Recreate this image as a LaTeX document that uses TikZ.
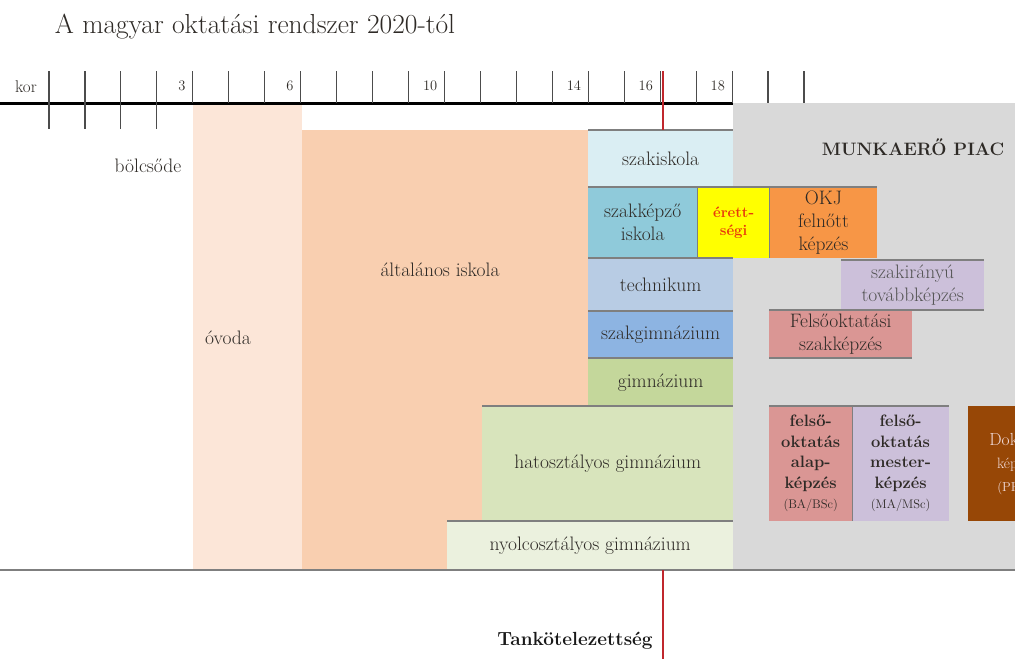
\documentclass[tikz,border=0pt]{standalone}
\usepackage{tikz}
\usepackage{xcolor}
\usetikzlibrary{positioning}

\definecolor{szoveg}{HTML}{2E2A26}
\definecolor{halvany}{HTML}{555555}
\definecolor{ovodaszin}{HTML}{FCE6D8}
\definecolor{altalanosszin}{HTML}{F9CFB0}
\definecolor{piacszin}{HTML}{D9D9D9}
\definecolor{szakiskszin}{HTML}{DAEEF3}
\definecolor{szakkepzoszin}{HTML}{8FCADA}
\definecolor{erettszin}{HTML}{FFFF00}
\definecolor{erettbetu}{HTML}{E8380D}
\definecolor{okjszin}{HTML}{F79646}
\definecolor{technszin}{HTML}{B8CCE4}
\definecolor{szakgimnszin}{HTML}{8DB4E2}
\definecolor{gimnszin}{HTML}{C4D79B}
\definecolor{hatosszin}{HTML}{D8E4BC}
\definecolor{nyolcszin}{HTML}{EBF1DE}
\definecolor{lilaszin}{HTML}{CCC0DA}
\definecolor{rozsaszin}{HTML}{DA9694}
\definecolor{doktorszin}{HTML}{974706}
\definecolor{doktorbetu}{HTML}{F2DCDB}
\definecolor{hatarszin}{HTML}{7F7F7F}
\definecolor{tankszin}{HTML}{C0272D}

\tikzset{
	box/.style={inner sep=0pt, align=center, text=szoveg, anchor=north west,
		font=\fontsize{19.5}{23}\selectfont},
	felso/.style={box, font=\bfseries\fontsize{16.5}{20.5}\selectfont},
	cimke/.style={inner sep=0pt, text=szoveg, font=\fontsize{19.5}{23}\selectfont},
	hatar/.style={draw=hatarszin, line width=2pt},
	tick/.style={draw=black!70, line width=1.1pt},
	tankvonal/.style={draw=tankszin, line width=2.5pt},
}

\begin{document}
\begin{tikzpicture}[x=1pt, y=-1pt]
	\useasboundingbox (0,0) rectangle (1015,659);
	\clip (0,0) rectangle (1015,659);

	\node (cim) [text=szoveg, font=\fontsize{27.5}{32}\selectfont] at (255,27) {A magyar oktatási rendszer 2020-tól};

	% hatter
	\node (ovoda) [box, fill=ovodaszin, minimum width=109pt, minimum height=467pt] at (193,103) {};
	\node (altalanos) [box, fill=altalanosszin, minimum width=286pt, minimum height=440pt] at (302,130) {};
	\node (piac) [box, fill=piacszin, minimum width=282pt, minimum height=467pt] at (733,103) {};

	\node (bolcsodecim) [cimke] at (148,166) {bölcsőde};
	\node (ovodacim) [cimke] at (228,338) {óvoda};
	\node (altalanoscim) [cimke] at (440,270) {általános iskola};
	\node (piaccim) [cimke, font=\bfseries\fontsize{18}{21}\selectfont] at (913,147) {MUNKAERŐ PIAC};

	% kozepfok
	\node (szakiskola) [box, fill=szakiskszin, minimum width=145pt, minimum height=57pt] at (588,130) {szakiskola};
	\node (szakkepzo) [box, fill=szakkepzoszin, minimum width=109pt, minimum height=71pt] at (588,187) {szakképző\\iskola};
	\node (erettsegi) [box, fill=erettszin, minimum width=72pt, minimum height=71pt, text=erettbetu,
		font=\bfseries\fontsize{15}{18.5}\selectfont, right=0pt of szakkepzo] {érett-\\ségi};
	\node (okj) [box, fill=okjszin, minimum width=107pt, minimum height=71pt, right=0pt of erettsegi] {OKJ\\felnőtt\\képzés};
	\node (technikum) [box, fill=technszin, minimum width=145pt, minimum height=52pt,
		below=0pt of szakkepzo.south west, anchor=north west] {technikum};
	\node (szakgimn) [box, fill=szakgimnszin, minimum width=145pt, minimum height=47pt,
		below=0pt of technikum.south west, anchor=north west] {szakgimnázium};
	\node (gimn) [box, fill=gimnszin, minimum width=145pt, minimum height=49pt,
		below=0pt of szakgimn.south west, anchor=north west] {gimnázium};
	\node (hatos) [box, fill=hatosszin, minimum width=251pt, minimum height=115pt] at (482,406) {hatosztályos gimnázium};
	\node (nyolc) [box, fill=nyolcszin, minimum width=286pt, minimum height=49pt] at (447,521) {nyolcosztályos gimnázium};

	% felsofok
	\node (szakirany) [box, fill=lilaszin, text=halvany, minimum width=143pt, minimum height=50pt] at (841,260) {szakirányú\\továbbképzés};
	\node (felsoszak) [box, fill=rozsaszin, minimum width=143pt, minimum height=48pt] at (769,310) {Felsőoktatási\\szakképzés};
	\node (alap) [felso, fill=rozsaszin, minimum width=83pt, minimum height=115pt] at (769,406)
		{felső-\\oktatás\\alap-\\képzés\\{\mdseries\fontsize{12.5}{14}\selectfont(BA/BSc)}};
	\node (mester) [felso, fill=lilaszin, minimum width=96pt, minimum height=115pt, right=0pt of alap]
		{felső-\\oktatás\\mester-\\képzés\\{\mdseries\fontsize{12.5}{14}\selectfont(MA/MSc)}};
	\node (doktori) [box, fill=doktorszin, text=doktorbetu, minimum width=96pt, minimum height=115pt] at (968,406)
		{{\fontsize{17.5}{19}\selectfont Doktori}\\{\fontsize{15}{16}\selectfont képzés}\\{\fontsize{13}{14}\selectfont (PHD)}};

	% hatarvonalak
	\draw[hatar] (szakiskola.north west) -- (szakiskola.north east);
	\draw[hatar] (szakkepzo.north west) -- (okj.north east);
	\draw[hatar] (technikum.north west) -- (technikum.north east);
	\draw[hatar] (szakgimn.north west) -- (szakgimn.north east);
	\draw[hatar] (gimn.north west) -- (gimn.north east);
	\draw[hatar] (hatos.north west) -- (hatos.north east);
	\draw[hatar] (nyolc.north west) -- (nyolc.north east);
	\draw[hatar] (szakirany.north west) -- (szakirany.north east);
	\draw[hatar] (szakirany.south west) -- (szakirany.south east);
	\draw[hatar] (felsoszak.north west) -- (felsoszak.north east);
	\draw[hatar] (felsoszak.south west) -- (felsoszak.south east);
	\draw[hatar] (alap.north west) -- (mester.north east);
	\draw[hatar, line width=1pt] (erettsegi.north west) -- (erettsegi.south west);
	\draw[hatar, line width=1pt] (okj.north west) -- (okj.south west);
	\draw[hatar, line width=1.5pt] (mester.north west) -- (mester.south west);

	\coordinate (talaj0) at (0,570);
	\coordinate (talaj1) at (1015,570);
	\draw[hatar] (talaj0) -- (talaj1);

	% korskala
	\coordinate (kor0) at (0,103);
	\coordinate (kor1) at (733,103);
	\draw[line width=3pt] (kor0) -- (kor1);
	\foreach \k in {0,...,21}
		\draw[tick] (49+35.95*\k,71) -- (49+35.95*\k,103);
	\foreach \k in {0,...,3}
		\draw[tick] (49+35.95*\k,103) -- (49+35.95*\k,129);
	\node (kor) [cimke, anchor=east, font=\fontsize{17}{19}\selectfont] at (37,87) {kor};
	\foreach \k/\ev in {4/3, 7/6, 11/10, 15/14, 17/16, 19/18}
		\node (ev\ev) [cimke, anchor=east, font=\fontsize{14.5}{16}\selectfont] at (42+35.95*\k,86) {\ev};

	% tankotelezettseg
	\coordinate (tank0) at (663,71);
	\coordinate (tank1) at (663,659);
	\draw[tankvonal] (tank0) -- (tank0 |- szakiskola.north);
	\draw[tankvonal] (tank1 |- nyolc.south) -- (tank1);
	\node (tank) [text=black!90, font=\bfseries\fontsize{19}{22}\selectfont] at (575,641) {Tankötelezettség};
\end{tikzpicture}
\end{document}
